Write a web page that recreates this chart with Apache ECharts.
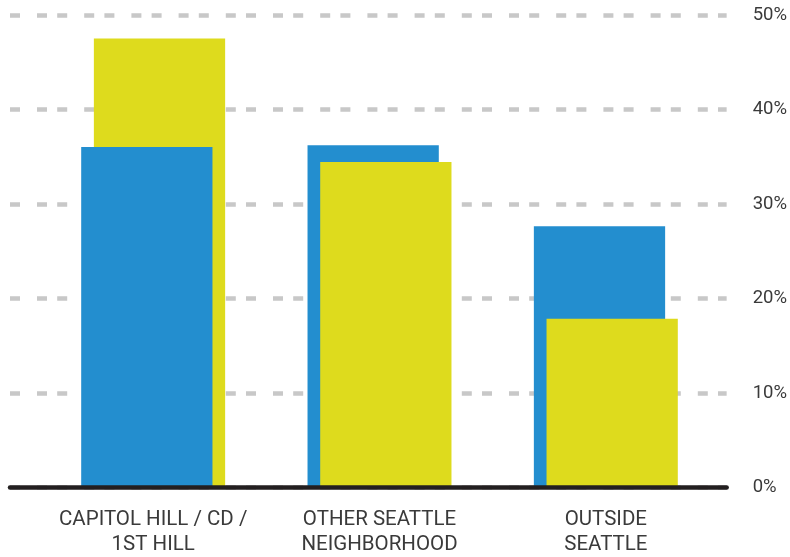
<!DOCTYPE html>
<html>
<head>
<meta charset="utf-8">
<script src="https://cdn.jsdelivr.net/npm/echarts@6/dist/echarts.min.js"></script>
<style>
  html, body { margin: 0; padding: 0; background: #ffffff; }
  #chart { width: 790px; height: 557px; }
</style>
</head>
<body>
<div id="chart"></div>
<script>
// Where respondents live: share of each group, in percent
const categories = ['CAPITOL HILL / CD /\n1ST HILL', 'OTHER SEATTLE\nNEIGHBORHOOD', 'OUTSIDE\nSEATTLE'];
const blueShare = [36.0, 36.2, 27.6];
const yellowShare = [47.5, 34.4, 17.8];
const yTicks = [0, 10, 20, 30, 40, 50];

const BLUE = '#238ecf';
const YELLOW = '#dedb1d';
const FONT = 'Roboto, "DejaVu Sans", sans-serif';

const rows = categories.map((c, i) => [i, blueShare[i], yellowShare[i]]);

// Two overlapping bars per category; the shorter one is painted in front
function renderPair(params, api) {
  const ci = api.value(0);
  const bv = api.value(1);
  const yv = api.value(2);
  const base = api.coord([ci, 0]);
  const band = api.size([1, 0])[0];
  const w = band * 0.58;
  const off = band * 0.056;
  const left = base[0] - (w + off) / 2;
  const blueTop = api.coord([ci, bv])[1];
  const yellowTop = api.coord([ci, yv])[1];
  const blueRect = {
    type: 'rect',
    shape: { x: left, y: blueTop, width: w, height: base[1] - blueTop },
    style: { fill: BLUE }
  };
  const yellowRect = {
    type: 'rect',
    shape: { x: left + off, y: yellowTop, width: w, height: base[1] - yellowTop },
    style: { fill: YELLOW }
  };
  return {
    type: 'group',
    children: bv < yv ? [yellowRect, blueRect] : [blueRect, yellowRect]
  };
}

const chart = echarts.init(document.getElementById('chart'), null, { renderer: 'canvas' });
chart.setOption({
  animation: false,
  backgroundColor: '#ffffff',
  grid: [
    { left: 10, right: 63, top: 15, bottom: 69.5 },
    { left: 40, right: 71, top: 15, bottom: 69.5 }
  ],
  xAxis: [
    {
      gridIndex: 0,
      type: 'category',
      data: categories,
      z: 5,
      axisLine: { show: true, lineStyle: { color: '#231f20', width: 4.5 } },
      axisTick: { show: false },
      axisLabel: { show: false },
      splitLine: { show: false }
    },
    {
      gridIndex: 1,
      type: 'category',
      data: categories,
      axisLine: { show: false },
      axisTick: { show: false },
      axisLabel: {
        show: true,
        interval: 0,
        margin: 20.5,
        color: '#3a3a3a',
        fontFamily: FONT,
        fontSize: 20.5,
        lineHeight: 25,
        align: 'center'
      },
      splitLine: { show: false }
    }
  ],
  yAxis: [
    {
      gridIndex: 0,
      type: 'value',
      position: 'right',
      min: yTicks[0],
      max: yTicks[yTicks.length - 1],
      interval: 10,
      axisLine: { show: false },
      axisTick: { show: false },
      axisLabel: {
        margin: 26,
        color: '#3a3a3a',
        fontFamily: FONT,
        fontSize: 18.5,
        align: 'left',
        formatter: '{value}%'
      },
      splitLine: {
        show: true,
        lineStyle: { color: '#c8c8c8', width: 4.5, type: [10, 17, 10, 10.2] }
      }
    },
    {
      gridIndex: 1,
      type: 'value',
      min: yTicks[0],
      max: yTicks[yTicks.length - 1],
      interval: 10,
      show: false,
      splitLine: { show: false }
    }
  ],
  series: [
    {
      type: 'custom',
      xAxisIndex: 1,
      yAxisIndex: 1,
      z: 2,
      renderItem: renderPair,
      encode: { x: 0, y: [1, 2] },
      data: rows
    }
  ]
});
</script>
</body>
</html>
